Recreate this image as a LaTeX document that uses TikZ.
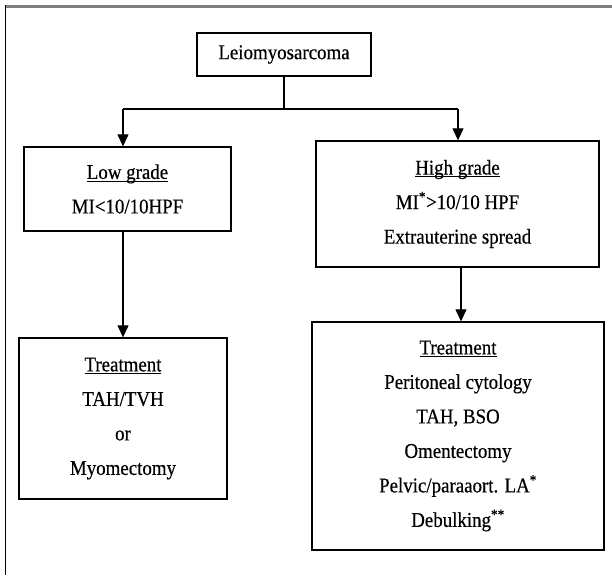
\documentclass[tikz,border=0pt]{standalone}
\usepackage{fontspec}
\setmainfont{Liberation Serif}[FakeStretch=0.9,FakeBold=0.4]
\usetikzlibrary{arrows.meta}
\newcommand\myul[1]{\setbox0\hbox{#1}\rlap{\rule[-2.8pt]{\wd0}{0.9pt}}\box0}
\tikzset{
  box/.style={draw=black, line width=1.3pt, inner sep=0pt, align=center,
    font=\fontsize{21pt}{34.5pt}\selectfont},
  conn/.style={draw=black, line width=1.1pt},
  arr/.style={conn, -{Triangle[length=12pt,width=11pt]}}
}
\begin{document}
\begin{tikzpicture}[x=1pt,y=-1pt]
\useasboundingbox (0,0) rectangle (612,575);
\fill[white] (0,0) rectangle (612,575);
% outer frame
\draw[line width=2.2pt, gray] (4.5,6.5) -- (612,6.5);
\draw[line width=1.6pt, black] (5.3,5.5) -- (5.3,575);
% boxes
\node[box, minimum width=174pt, minimum height=43pt] (top) at (284,54.5) {Leiomyosarcoma};
\node[box, minimum width=207pt, minimum height=84pt] (low) at (127.5,189)
  {\myul{Low grade}\\MI<10/10HPF};
\node[box, minimum width=283pt, minimum height=126pt] (high) at (457.5,204)
  {\myul{High grade}\\MI\textsuperscript{*}>10/10 HPF\\Extrauterine spread};
\node[box, minimum width=208pt, minimum height=161pt] (tl) at (123,418.5)
  {\myul{Treatment}\\TAH/TVH\\or\\Myomectomy};
\node[box, minimum width=292pt, minimum height=228pt] (tr) at (458,436)
  {\myul{Treatment}\\Peritoneal cytology\\TAH, BSO\\Omentectomy\\Pelvic/paraaort. LA\textsuperscript{*}\\Debulking\textsuperscript{**}};
% connectors
\coordinate (jl) at (123,109);
\coordinate (jr) at (458,109);
\draw[conn] (top.south) -- (top.south |- jl);
\draw[conn] (jl) -- (jr);
\draw[arr] (jl) -- (jl |- low.north);
\draw[arr] (jr) -- (jr |- high.north);
\draw[arr] ([xshift=-4.5pt]low.south) -- ([xshift=-4.5pt]low.south |- tl.north);
\draw[arr] ([xshift=3.5pt]high.south) -- ([xshift=3.5pt]high.south |- tr.north);
\end{tikzpicture}
\end{document}
